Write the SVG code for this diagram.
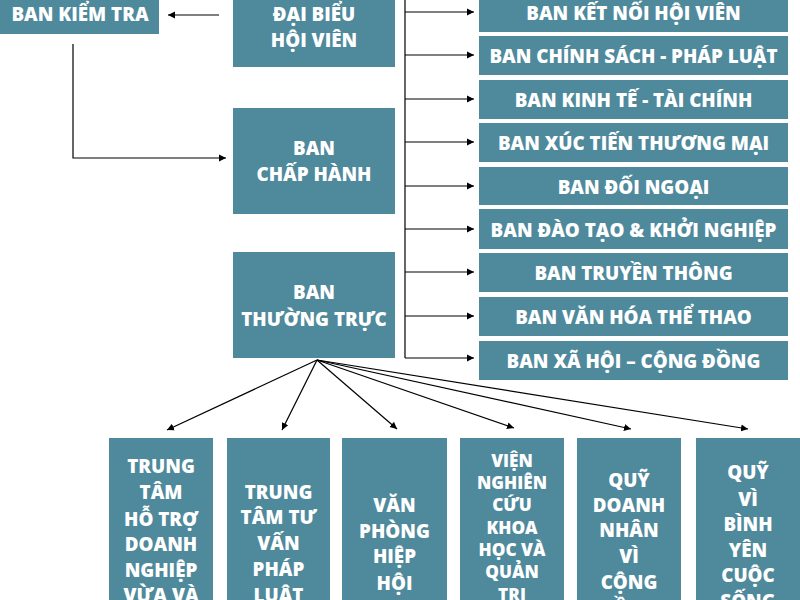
<svg xmlns="http://www.w3.org/2000/svg" width="800" height="600" viewBox="0 0 800 600">
<defs>
<style>
.box{fill:#4e899c}
.t{font-family:"Open Sans","Liberation Sans",sans-serif;font-weight:800;font-size:18.8px;fill:#ffffff;text-anchor:middle}
.s{font-size:17.2px}
.c{fill:none;stroke:#000;stroke-width:1.2}
</style>
<marker id="ah" markerUnits="userSpaceOnUse" markerWidth="8" markerHeight="8" refX="7" refY="4" orient="auto">
<path d="M0,0.5 L7,4 L0,7.5 Z" fill="#000"/>
</marker>
</defs>
<rect width="800" height="600" fill="#fff"/>

<g id="connectors">
<path class="c" d="M219,15 H168" marker-end="url(#ah)"/>
<path class="c" d="M73,44 V158 H226" marker-end="url(#ah)"/>
<path class="c" d="M405,0 V358"/>
<path class="c" d="M405,12 H474" marker-end="url(#ah)"/>
<path class="c" d="M405,55 H474" marker-end="url(#ah)"/>
<path class="c" d="M405,99 H474" marker-end="url(#ah)"/>
<path class="c" d="M405,142 H474" marker-end="url(#ah)"/>
<path class="c" d="M405,186 H474" marker-end="url(#ah)"/>
<path class="c" d="M405,229 H474" marker-end="url(#ah)"/>
<path class="c" d="M405,272 H474" marker-end="url(#ah)"/>
<path class="c" d="M405,316 H474" marker-end="url(#ah)"/>
<path class="c" d="M405,358 H474" marker-end="url(#ah)"/>
<path class="c" d="M317,360 L167,430" marker-end="url(#ah)"/>
<path class="c" d="M317,360 L282,430" marker-end="url(#ah)"/>
<path class="c" d="M317,360 L397,429" marker-end="url(#ah)"/>
<path class="c" d="M317,360 L514,428" marker-end="url(#ah)"/>
<path class="c" d="M317,360 L631,429" marker-end="url(#ah)"/>
<path class="c" d="M317,360 L748,429" marker-end="url(#ah)"/>
</g>

<g id="ban-kiem-tra"><rect class="box" x="-2" y="-2" width="161" height="36"/><text class="t" x="80" y="20.5">BAN KIỂM TRA</text></g>
<g id="dai-bieu"><rect class="box" x="233" y="-2" width="162" height="69"/><text class="t" x="314" y="20.5">ĐẠI BIỂU</text><text class="t" x="314" y="46.5">HỘI VIÊN</text></g>
<g id="ban-chap-hanh"><rect class="box" x="233" y="108" width="162" height="106"/><text class="t" x="314" y="155">BAN</text><text class="t" x="314" y="180.5">CHẤP HÀNH</text></g>
<g id="ban-thuong-truc"><rect class="box" x="233" y="252" width="162" height="106"/><text class="t" x="314" y="298.5">BAN</text><text class="t" x="314" y="325.5">THƯỜNG TRỰC</text></g>

<g id="r1"><rect class="box" x="479" y="-7" width="309" height="39"/><text class="t" x="633.5" y="20">BAN KẾT NỐI HỘI VIÊN</text></g>
<g id="r2"><rect class="box" x="479" y="36" width="309" height="39"/><text class="t" x="633.5" y="63">BAN CHÍNH SÁCH - PHÁP LUẬT</text></g>
<g id="r3"><rect class="box" x="479" y="80" width="309" height="39"/><text class="t" x="633.5" y="107">BAN KINH TẾ - TÀI CHÍNH</text></g>
<g id="r4"><rect class="box" x="479" y="123" width="309" height="39"/><text class="t" x="633.5" y="150">BAN XÚC TIẾN THƯƠNG MẠI</text></g>
<g id="r5"><rect class="box" x="479" y="167" width="309" height="38"/><text class="t" x="633.5" y="193.5">BAN ĐỐI NGOẠI</text></g>
<g id="r6"><rect class="box" x="479" y="209" width="309" height="40"/><text class="t" x="633.5" y="236.5">BAN ĐÀO TẠO &amp; KHỞI NGHIỆP</text></g>
<g id="r7"><rect class="box" x="479" y="253" width="309" height="39"/><text class="t" x="633.5" y="280">BAN TRUYỀN THÔNG</text></g>
<g id="r8"><rect class="box" x="479" y="297" width="309" height="39"/><text class="t" x="633.5" y="324">BAN VĂN HÓA THỂ THAO</text></g>
<g id="r9"><rect class="box" x="479" y="341" width="309" height="39"/><text class="t" x="633.5" y="367.5">BAN XÃ HỘI – CỘNG ĐỒNG</text></g>

<g id="b1"><rect class="box" x="109" y="438" width="104" height="170"/>
<text class="t" x="161" y="473">TRUNG</text><text class="t" x="161" y="499">TÂM</text><text class="t" x="161" y="525.5">HỖ TRỢ</text><text class="t" x="161" y="550.5">DOANH</text><text class="t" x="161" y="576.5">NGHIỆP</text><text class="t" x="161" y="602">VỪA VÀ</text></g>
<g id="b2"><rect class="box" x="227" y="438" width="103" height="170"/>
<text class="t" x="278.5" y="498.5">TRUNG</text><text class="t" x="278.5" y="524">TÂM TƯ</text><text class="t" x="278.5" y="550">VẤN</text><text class="t" x="278.5" y="576">PHÁP</text><text class="t" x="278.5" y="602">LUẬT</text></g>
<g id="b3"><rect class="box" x="342" y="438" width="105" height="170"/>
<text class="t" x="394.5" y="512">VĂN</text><text class="t" x="394.5" y="537.5">PHÒNG</text><text class="t" x="394.5" y="563">HIỆP</text><text class="t" x="394.5" y="589.5">HỘI</text></g>
<g id="b4"><rect class="box" x="460" y="438" width="104" height="170"/>
<text class="t s" x="512" y="466.8">VIỆN</text><text class="t s" x="512" y="488.5">NGHIÊN</text><text class="t s" x="512" y="511">CỨU</text><text class="t s" x="512" y="533.5">KHOA</text><text class="t s" x="512" y="555.5">HỌC VÀ</text><text class="t s" x="512" y="578">QUẢN</text><text class="t s" x="512" y="600.5">TRỊ</text></g>
<g id="b5"><rect class="box" x="577" y="438" width="104" height="170"/>
<text class="t" x="629" y="486.5">QUỸ</text><text class="t" x="629" y="512">DOANH</text><text class="t" x="629" y="537">NHÂN</text><text class="t" x="629" y="563">VÌ</text><text class="t" x="629" y="589">CỘNG</text><text class="t" x="629" y="615">ĐỒNG</text></g>
<g id="b6"><rect class="box" x="696" y="438" width="106" height="170"/>
<text class="t" x="748" y="479">QUỸ</text><text class="t" x="748" y="505.5">VÌ</text><text class="t" x="748" y="531">BÌNH</text><text class="t" x="748" y="556.5">YÊN</text><text class="t" x="748" y="581.5">CUỘC</text><text class="t" x="748" y="607.5">SỐNG</text></g>
</svg>
